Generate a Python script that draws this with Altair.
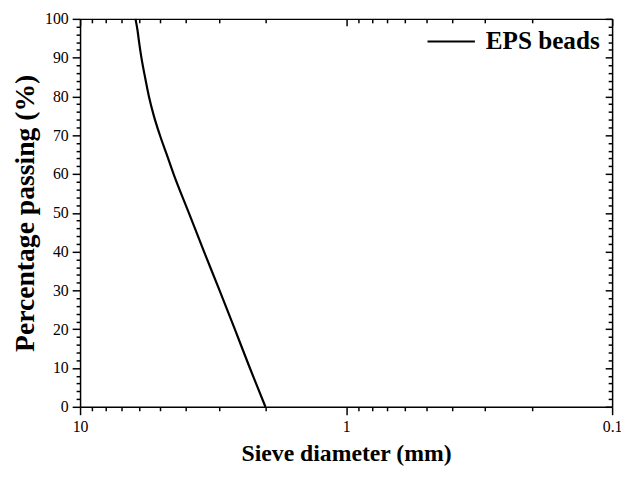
import altair as alt
import pandas as pd

# Data
diameter = [6.19, 6.08, 6.00, 5.88, 5.70, 5.51, 5.28, 5.01, 4.72, 4.45, 3.90, 3.42, 2.99, 2.62, 2.30, 2.01]
passing = [100, 97, 94, 90, 85, 80, 75, 70, 65, 60, 50, 40, 30, 20, 10, 0]
series = ["EPS beads"] * len(diameter)

x_ticks = [0.1, 0.2, 0.3, 0.4, 0.5, 0.6, 0.7, 0.8, 0.9,
           1, 2, 3, 4, 5, 6, 7, 8, 9, 10]
y_ticks = list(range(0, 101, 2))

df = pd.DataFrame({"d": diameter, "p": passing, "s": series})

FONT = "Liberation Serif"
major_x = "abs(log(datum.value)/LN10 - round(log(datum.value)/LN10)) < 0.001"
major_y = "datum.value % 10 == 0"

xscale = alt.Scale(type="log", domain=[0.1, 10], reverse=True, nice=False)
yscale = alt.Scale(domain=[0, 100], nice=False)

common = dict(labelFlush=False, labelOverlap=False, grid=False,
              domainColor="black", domainWidth=1.5,
              tickColor="black", tickWidth=1.5)


def tsize(test, big, small):
    return {"condition": {"test": test, "value": big}, "value": small}


base = alt.Chart(df)

main = base.mark_line(color="black", strokeWidth=2.2, interpolate="monotone").encode(
    x=alt.X("d:Q", scale=xscale,
            axis=alt.Axis(orient="bottom", values=x_ticks,
                          title="Sieve diameter (mm)", titleFontSize=24,
                          labelExpr=f"{major_x} ? format(datum.value, '~g') : ''",
                          tickSize=tsize(major_x, 8, 4),
                          labelPadding=4, titlePadding=7, **common)),
    y=alt.Y("p:Q", scale=yscale,
            axis=alt.Axis(orient="left", values=y_ticks,
                          title="Percentage passing (%)", titleFontSize=28,
                          labelExpr=f"{major_y} ? datum.label : ''",
                          tickSize=tsize(major_y, 8, 4),
                          labelPadding=4, titlePadding=5, **common)),
    color=alt.Color("s:N", scale=alt.Scale(range=["black"]),
                    legend=alt.Legend(title=None, orient="none", legendX=351, legendY=-2,
                                      symbolType="stroke", symbolSize=2304,
                                      symbolStrokeWidth=2, symbolStrokeColor="black",
                                      labelFont=FONT, labelFontSize=25.5,
                                      labelFontWeight="bold", labelColor="black",
                                      labelOffset=10, padding=0)),
)

mirror = base.mark_line(opacity=0).encode(
    x=alt.X("d:Q", scale=xscale,
            axis=alt.Axis(orient="top", values=x_ticks, labels=False, title=None,
                          tickSize=tsize(major_x, -7, -4), **common)),
    y=alt.Y("p:Q", scale=yscale,
            axis=alt.Axis(orient="right", values=y_ticks, labels=False, title=None,
                          tickSize=tsize(major_y, -7, -4), **common)),
)

chart = (
    alt.layer(main, mirror)
    .resolve_axis(x="independent", y="independent")
    .properties(width=539, height=393, autosize="none",
                padding={"left": 73, "top": 8, "right": 9, "bottom": 61})
    .configure_view(stroke=None)
    .configure_axis(labelFont=FONT, labelFontSize=16, labelColor="black",
                    titleFont=FONT, titleFontWeight="bold",
                    titleColor="black")
)

chart.save("out.html", embed_options={"renderer": "svg", "actions": False})
